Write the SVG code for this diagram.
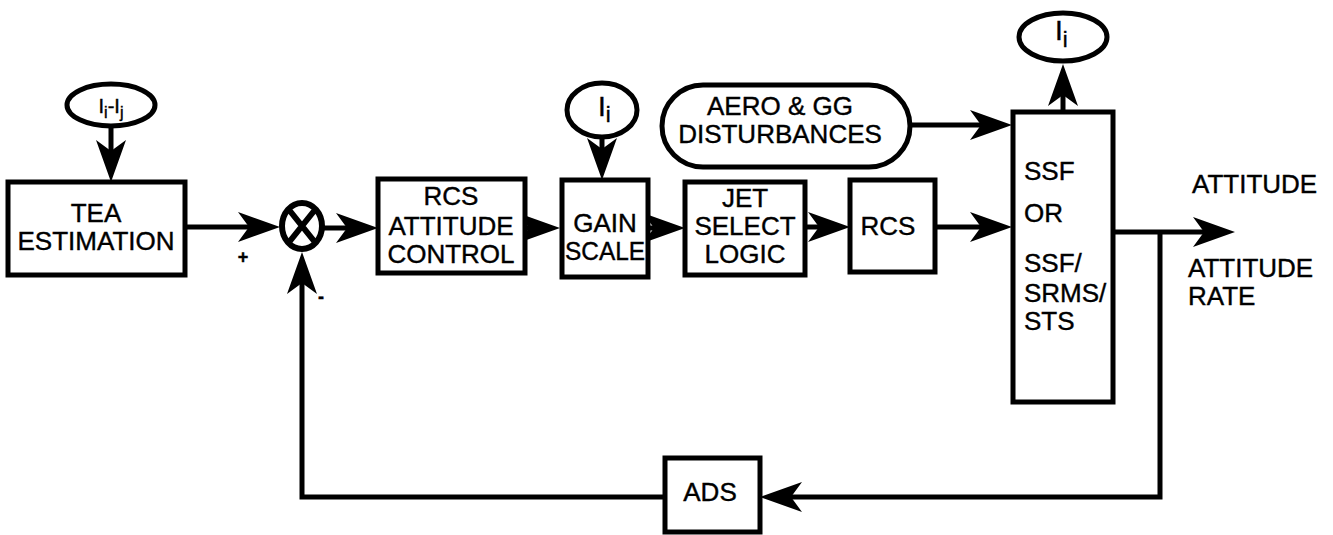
<svg xmlns="http://www.w3.org/2000/svg" width="1333" height="535" viewBox="0 0 1333 535">
<style>
.box{fill:#fff;stroke:#000;stroke-width:5}
.ell{fill:#fff;stroke:#000;stroke-width:5}
.ln{fill:none;stroke:#000;stroke-width:5;marker-end:url(#ah)}
.ln2{fill:none;stroke:#000;stroke-width:5}
text{font-family:"Liberation Sans",Arial,sans-serif;font-size:26px;fill:#000;stroke:#000;stroke-width:0.4}
.c{text-anchor:middle}
</style>
<defs>
<marker id="ah" markerUnits="userSpaceOnUse" viewBox="-20 -16 48 32" refX="0" refY="0" markerWidth="48" markerHeight="32" orient="auto" overflow="visible">
<path d="M25,0 L-17,-15 L-6,0 L-17,15 Z" fill="#000"/>
</marker>
</defs>
<rect width="1333" height="535" fill="#fff"/>
<g id="connectors">
<path class="ln" d="M185,227 H255"/>
<path class="ln" d="M323,228 H353"/>
<path class="ln" d="M525,228 H535"/>
<path class="ln" d="M648,228 H660"/>
<path class="ln" d="M805,227 H825"/>
<path class="ln" d="M935,227 H987"/>
<path class="ln" d="M910,125 H987"/>
<path class="ln" d="M1113,232 H1210"/>
<path class="ln" d="M1160,232 V497 H785"/>
<path class="ln" d="M665,497 H302 V277"/>
<path class="ln" d="M111,125 V157"/>
<path class="ln" d="M602,138 V155"/>
<path class="ln" d="M1063,112 V89"/>
</g>
<g id="ellipse-iij">
<ellipse class="ell" cx="111" cy="105" rx="44" ry="21"/>
<text x="111" y="113" class="c" style="font-size:20px">I<tspan style="font-size:16px" dy="5">i</tspan><tspan dy="-5">-I</tspan><tspan style="font-size:16px" dy="5">j</tspan></text>
</g>
<g id="tea">
<rect class="box" x="8" y="182" width="177" height="93"/>
<text x="96" y="222" class="c">TEA</text>
<text x="96" y="250" class="c">ESTIMATION</text>
</g>
<g id="sum">
<ellipse cx="302" cy="226" rx="20" ry="23" fill="#fff" stroke="#000" stroke-width="6"/>
<path d="M290,211 L314,241 M314,211 L290,241" stroke="#000" stroke-width="6"/>
<text x="243" y="263" class="c" style="font-size:18px;font-weight:bold">+</text>
<text x="321" y="303" class="c" style="font-size:18px;font-weight:bold">-</text>
</g>
<g id="rcs-att">
<rect class="box" x="378" y="179" width="147" height="94"/>
<text x="451" y="205" class="c">RCS</text>
<text x="451" y="235" class="c">ATTITUDE</text>
<text x="451" y="263" class="c">CONTROL</text>
</g>
<g id="ellipse-ii-1">
<ellipse class="ell" cx="602" cy="110" rx="35" ry="27"/>
<text x="598" y="116" style="font-size:28px">I<tspan style="font-size:22px" dy="6">i</tspan></text>
</g>
<g id="gain">
<rect class="box" x="562" y="180" width="86" height="97"/>
<text x="605" y="232" class="c">GAIN</text>
<text x="605" y="260" class="c" textLength="80" lengthAdjust="spacingAndGlyphs">SCALE</text>
</g>
<g id="jet">
<rect class="box" x="685" y="182" width="120" height="93"/>
<text x="745" y="207" class="c">JET</text>
<text x="745" y="235" class="c">SELECT</text>
<text x="745" y="263" class="c">LOGIC</text>
</g>
<g id="rcs">
<rect class="box" x="850" y="180" width="85" height="92"/>
<text x="888" y="235" class="c">RCS</text>
</g>
<g id="aero">
<rect class="box" x="662" y="85" width="248" height="82" rx="41" ry="41"/>
<text x="780" y="115" class="c">AERO &amp; GG</text>
<text x="780" y="143" class="c">DISTURBANCES</text>
</g>
<g id="ellipse-ii-2">
<ellipse class="ell" cx="1063" cy="37" rx="44" ry="24"/>
<text x="1055" y="40" style="font-size:28px">I<tspan style="font-size:22px" dy="7">i</tspan></text>
</g>
<g id="ssf">
<rect class="box" x="1013" y="112" width="100" height="290"/>
<text x="1024" y="180">SSF</text>
<text x="1024" y="222">OR</text>
<text x="1024" y="272">SSF/</text>
<text x="1024" y="302">SRMS/</text>
<text x="1024" y="330">STS</text>
</g>
<g id="outputs">
<text x="1192" y="193">ATTITUDE</text>
<text x="1188" y="277">ATTITUDE</text>
<text x="1188" y="305">RATE</text>
</g>
<g id="ads">
<rect class="box" x="665" y="458" width="95" height="74"/>
<text x="710" y="501" class="c">ADS</text>
</g>
</svg>
